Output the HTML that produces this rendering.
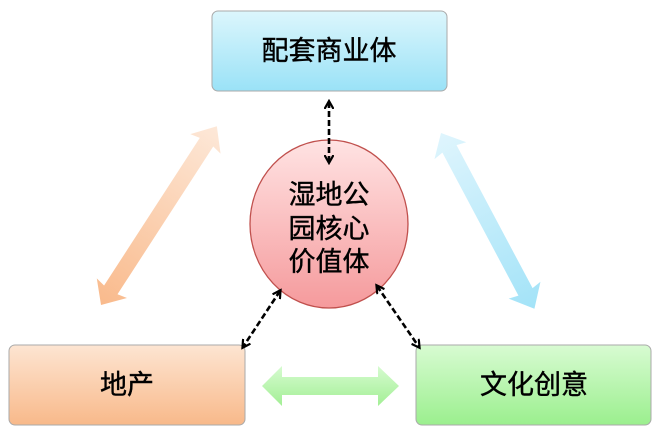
<!DOCTYPE html>
<html><head><meta charset="utf-8"><style>
body{margin:0;background:#fff;width:658px;height:434px;overflow:hidden}
svg text{font-family:"Liberation Sans","Noto Sans CJK SC",sans-serif;fill:#000}
</style></head><body>
<svg width="658" height="434" viewBox="0 0 658 434" xmlns="http://www.w3.org/2000/svg">
<defs>
<linearGradient id="gb" x1="0" y1="0" x2="0" y2="1"><stop offset="0" stop-color="#dcf6fc"/><stop offset="1" stop-color="#9ae2f7"/></linearGradient>
<linearGradient id="go" x1="0" y1="0" x2="0" y2="1"><stop offset="0" stop-color="#fde5d2"/><stop offset="1" stop-color="#f8b98a"/></linearGradient>
<linearGradient id="gg" x1="0" y1="0" x2="0" y2="1"><stop offset="0" stop-color="#d8fbd2"/><stop offset="1" stop-color="#9bef8e"/></linearGradient>
<linearGradient id="gr" x1="0" y1="0" x2="0" y2="1"><stop offset="0" stop-color="#ffe3e3"/><stop offset="1" stop-color="#f59a9c"/></linearGradient>
<linearGradient id="ao" x1="0" y1="0" x2="1" y2="0"><stop offset="0" stop-color="#f9ba8c"/><stop offset="1" stop-color="#fde8d8"/></linearGradient>
<linearGradient id="ab" x1="0" y1="0" x2="1" y2="0"><stop offset="0" stop-color="#dff5fd"/><stop offset="1" stop-color="#a3e3f8"/></linearGradient>
<linearGradient id="ag" x1="0" y1="0" x2="0" y2="1"><stop offset="0" stop-color="#d6fbd0"/><stop offset="1" stop-color="#a3ef95"/></linearGradient>
<marker id="m" markerWidth="10" markerHeight="10" refX="7" refY="5" orient="auto-start-reverse" markerUnits="userSpaceOnUse"><path d="M0,0.5 L8,5 L0,9.5" fill="none" stroke="#000" stroke-width="2.2"/></marker>
</defs>
<g stroke="#aaa" stroke-width="1">
<rect x="212" y="11" width="235" height="80" rx="6" fill="url(#gb)"/>
<rect x="9" y="345" width="236" height="80" rx="6" fill="url(#go)"/>
<rect x="416" y="345" width="235" height="80" rx="6" fill="url(#gg)"/>
</g>
<g transform="translate(101,305) rotate(-57.05)">
<polygon points="0,0 20,-18 18,-8 194,-8 192,-18 213,0 192,18 194,8 18,8 20,18" fill="url(#ao)"/>
</g>
<g transform="translate(441,133) rotate(62)">
<polygon points="0,0 20,-18 18,-8 180,-8 178,-18 199,0 178,18 180,8 18,8 20,18" fill="url(#ab)"/>
</g>
<polygon points="262,386 282,366 282,377 378,377 378,366 399,386 378,406 378,395 282,395 282,406" fill="url(#ag)"/>
<ellipse cx="329" cy="224" rx="79" ry="84" fill="url(#gr)" stroke="#c0504d" stroke-width="1.3"/>
<g stroke="#000" stroke-width="2.6" stroke-dasharray="6,3" fill="none">
<line x1="329" y1="102" x2="329" y2="162" marker-start="url(#m)" marker-end="url(#m)"/>
<line x1="280" y1="291" x2="243" y2="347" marker-start="url(#m)" marker-end="url(#m)"/>
<line x1="377" y1="286" x2="419" y2="347" marker-start="url(#m)" marker-end="url(#m)"/>
</g>
<g font-size="27" text-anchor="middle" stroke="#000" stroke-width="0.4">
<text x="329" y="60">配套商业体</text>
<text x="329" y="204">湿地公</text>
<text x="329" y="238">园核心</text>
<text x="329" y="271">价值体</text>
<text x="127" y="394">地产</text>
<text x="534" y="394">文化创意</text>
</g>
</svg>
</body></html>
